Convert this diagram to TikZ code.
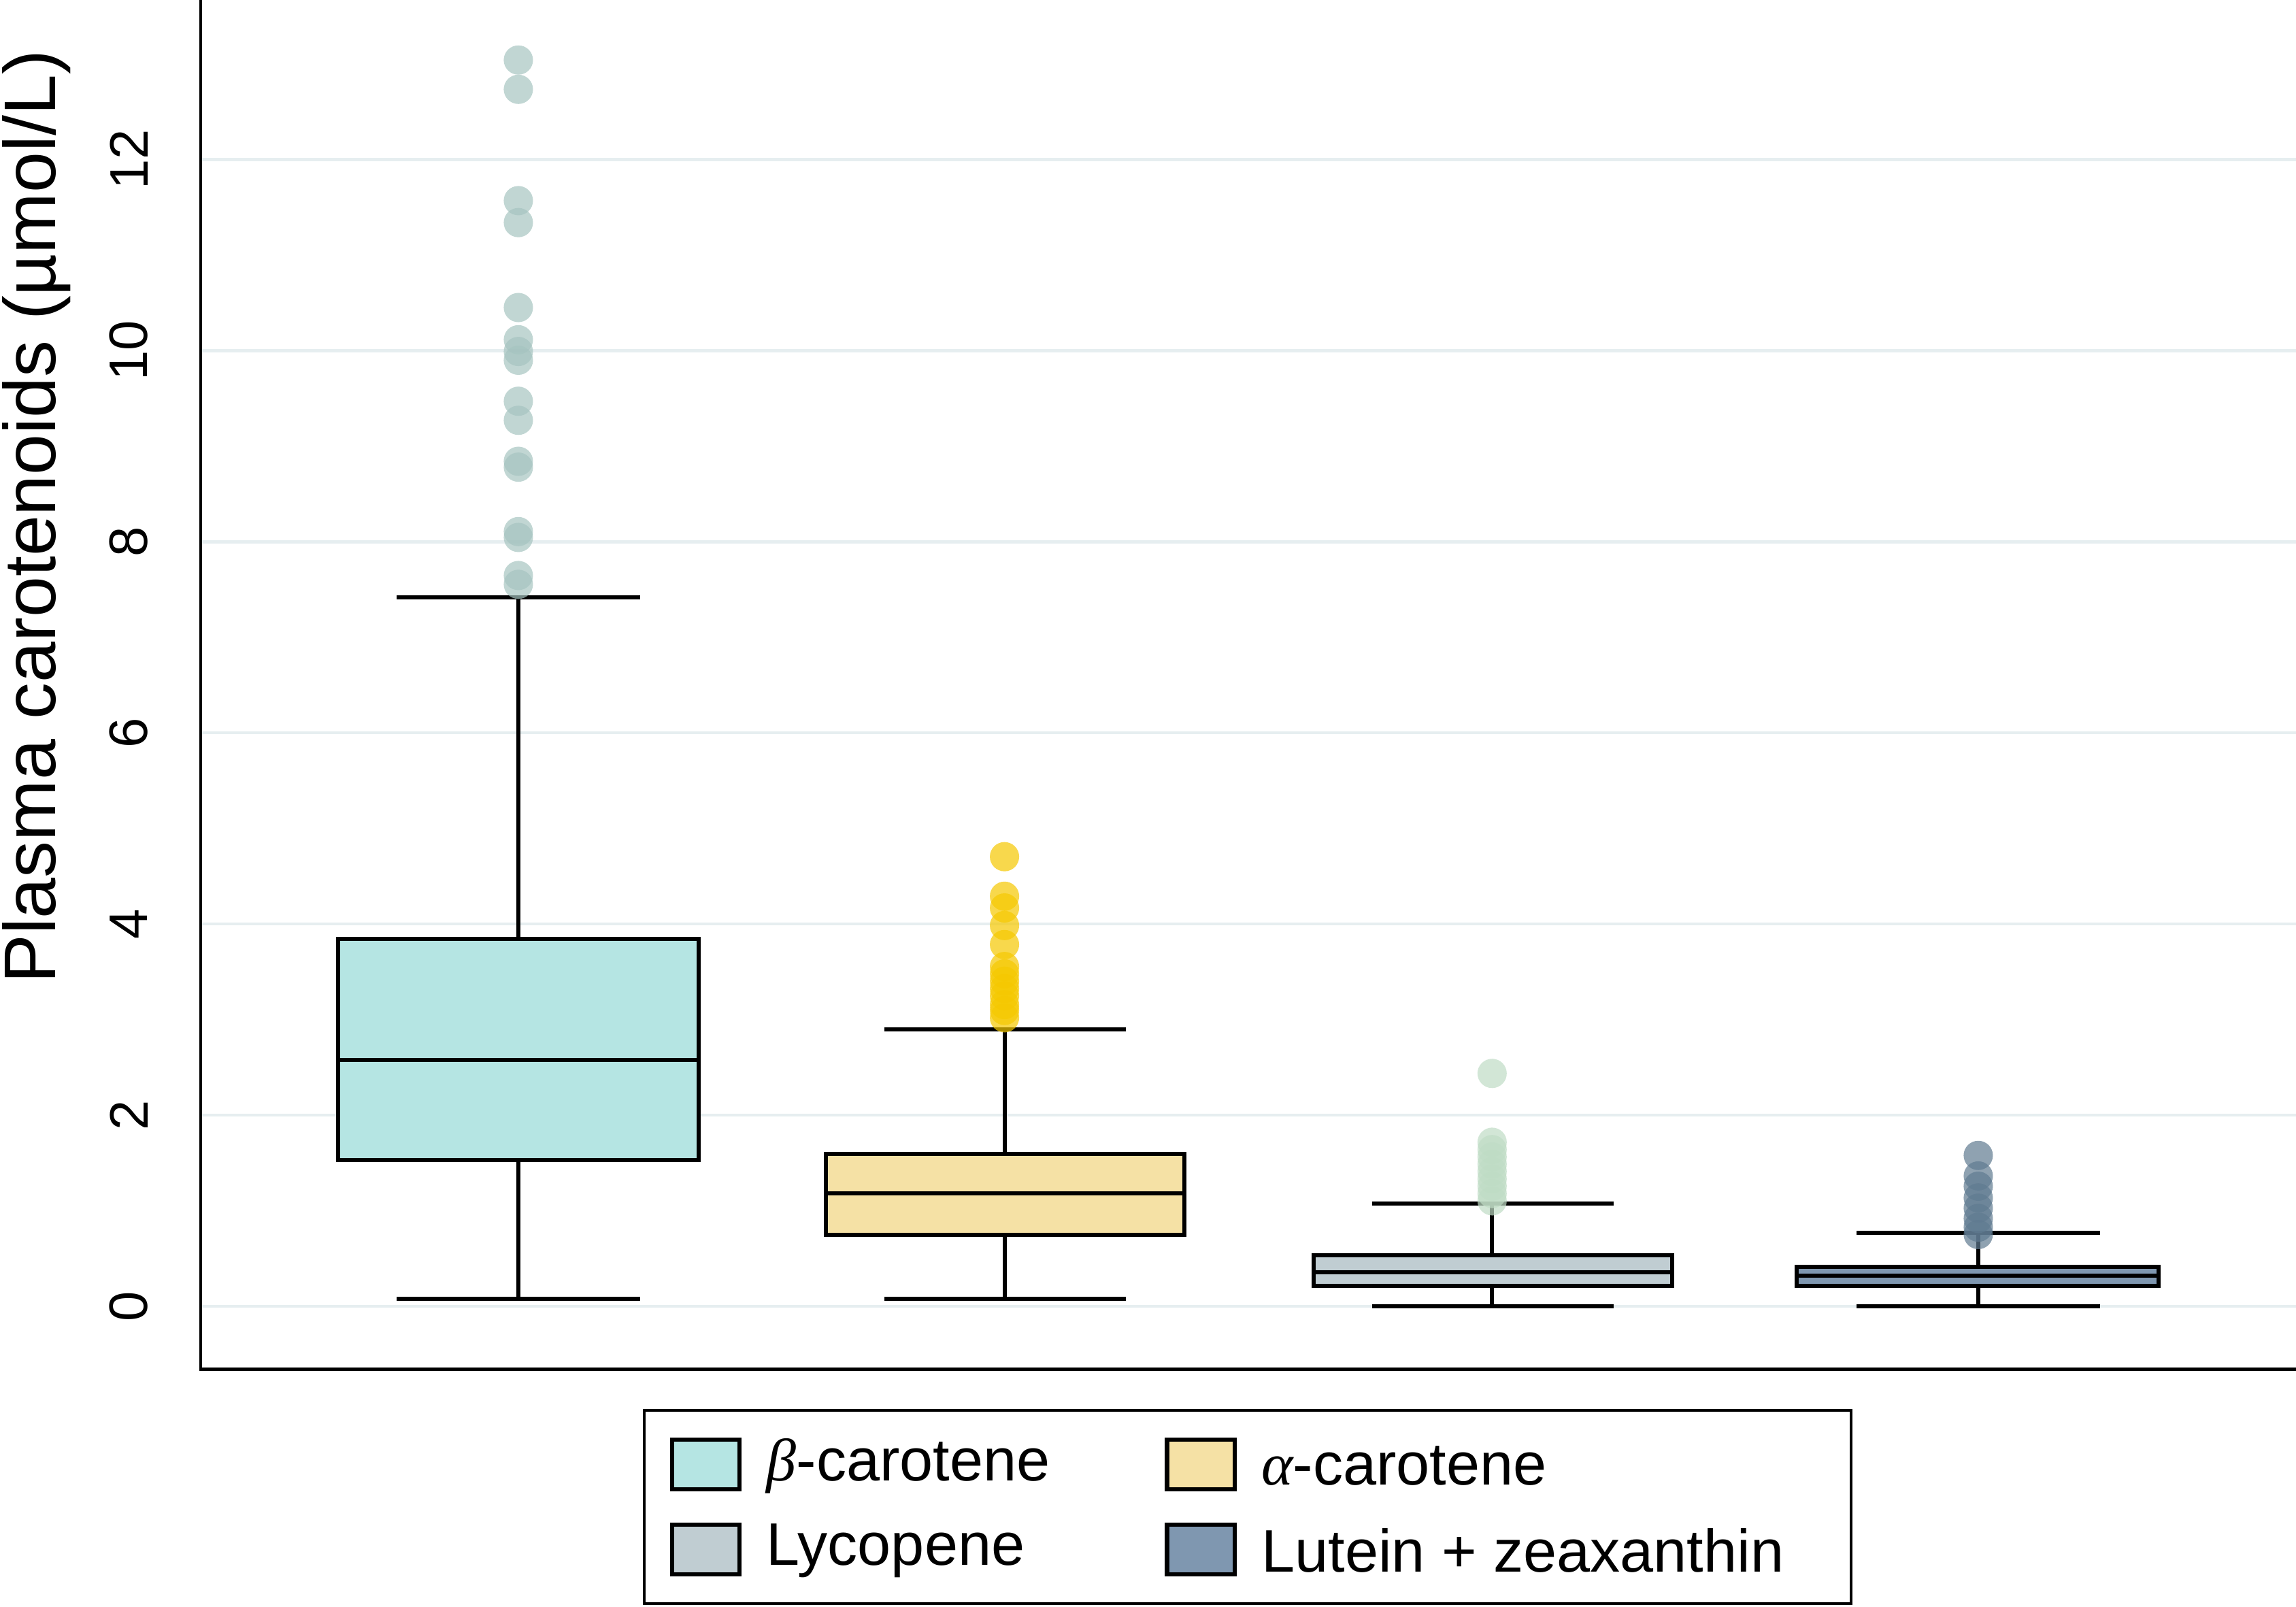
\documentclass[tikz,border=0pt]{standalone}
\usepackage{fontspec}
\setmainfont{Liberation Sans}
\newfontfamily\gk{Liberation Serif}
\begin{document}
\begin{tikzpicture}[x=1pt,y=-1pt,
  bx/.style={draw=black,line width=2.8pt},
  wh/.style={black,line width=2.8pt},
  pt/.style={circle,inner sep=0pt,minimum size=20pt,fill opacity=0.7},
  tl/.style={font=\fontsize{37}{42}\selectfont,rotate=90},
  lg/.style={font=\fontsize{41}{46}\selectfont,anchor=west}]
\useasboundingbox (0,0) rectangle (1568,1097);
\definecolor{grid}{HTML}{E6EEF0}
\definecolor{cb}{HTML}{B5E5E3}\definecolor{ca}{HTML}{F5E1A5}
\definecolor{cl}{HTML}{C0CDD2}\definecolor{cz}{HTML}{7F97B0}
\definecolor{ob}{HTML}{A6C4C0}\definecolor{oa}{HTML}{F5C800}
\definecolor{ol}{HTML}{BFDCC5}\definecolor{oz}{HTML}{5F7A90}
\foreach \v/\t in {0/0,2/2,4/4,6/6,8/8,10/10,12/12}{
  \draw[grid,line width=2pt] (137,{892-65.25*\v}) -- (1568,{892-65.25*\v});
  \node[tl] (t\v) at (88,{892-65.25*\v}) {\t};}
\draw[line width=2pt] (137,0) -- (137,935) -- (1568,935);
\node[font=\fontsize{50}{56}\selectfont,rotate=90] (yt) at (25,353) {Plasma carotenoids (µmol/L)};
% beta
\draw[wh] (354,792) -- (354,887) (271,887) -- (437,887);
\draw[wh] (354,641) -- (354,408) (271,408) -- (437,408);
\draw[bx,fill=cb] (231,641) rectangle (477,792); \draw[wh] (231,724) -- (477,724);
\foreach \y in {41,61,137,152,210,232,240,246,274,287,315,319,363,367,393,399}
  \node[pt,fill=ob] at (354,\y) {};
% alpha
\draw[wh] (686,843) -- (686,887) (604,887) -- (769,887);
\draw[wh] (686,788) -- (686,703) (604,703) -- (769,703);
\draw[bx,fill=ca] (564,788) rectangle (809,843); \draw[wh] (564,815) -- (809,815);
\foreach \y in {585,612,620,632,645,660,665,670,675,680,686,690,695}
  \node[pt,fill=oa] at (686,\y) {};
% lycopene
\draw[wh] (1019,878) -- (1019,892) (937,892) -- (1102,892);
\draw[wh] (1019,857) -- (1019,822) (937,822) -- (1102,822);
\draw[bx,fill=cl] (897,857) rectangle (1142,878); \draw[wh] (897,869) -- (1142,869);
\foreach \y in {733,780,785,790,795,800,805,810,815,820}
  \node[pt,fill=ol] at (1019,\y) {};
% lutein
\draw[wh] (1351,878) -- (1351,892) (1268,892) -- (1434,892);
\draw[wh] (1351,865) -- (1351,842) (1268,842) -- (1434,842);
\draw[bx,fill=cz] (1227,865) rectangle (1474,878); \draw[wh] (1227,871) -- (1474,871);
\foreach \y in {789,803,810,818,825,832,838,843}
  \node[pt,fill=oz] at (1351,\y) {};
% legend
\draw[line width=2pt] (440,963) rectangle (1264,1095);
\draw[bx,fill=cb] (459,983) rectangle (505,1017);
\draw[bx,fill=ca] (797,983) rectangle (843,1017);
\draw[bx,fill=cl] (459,1041) rectangle (505,1075);
\draw[bx,fill=cz] (797,1041) rectangle (843,1075);
\node[lg] (l1) at (520,1001) {{\gk\itshape β}-carotene};
\node[lg] (l2) at (858,1001) {{\gk\itshape α}-carotene};
\node[lg] (l3) at (520,1059) {Lycopene};
\node[lg] (l4) at (858,1059) {Lutein + zeaxanthin};
\end{tikzpicture}
\end{document}
